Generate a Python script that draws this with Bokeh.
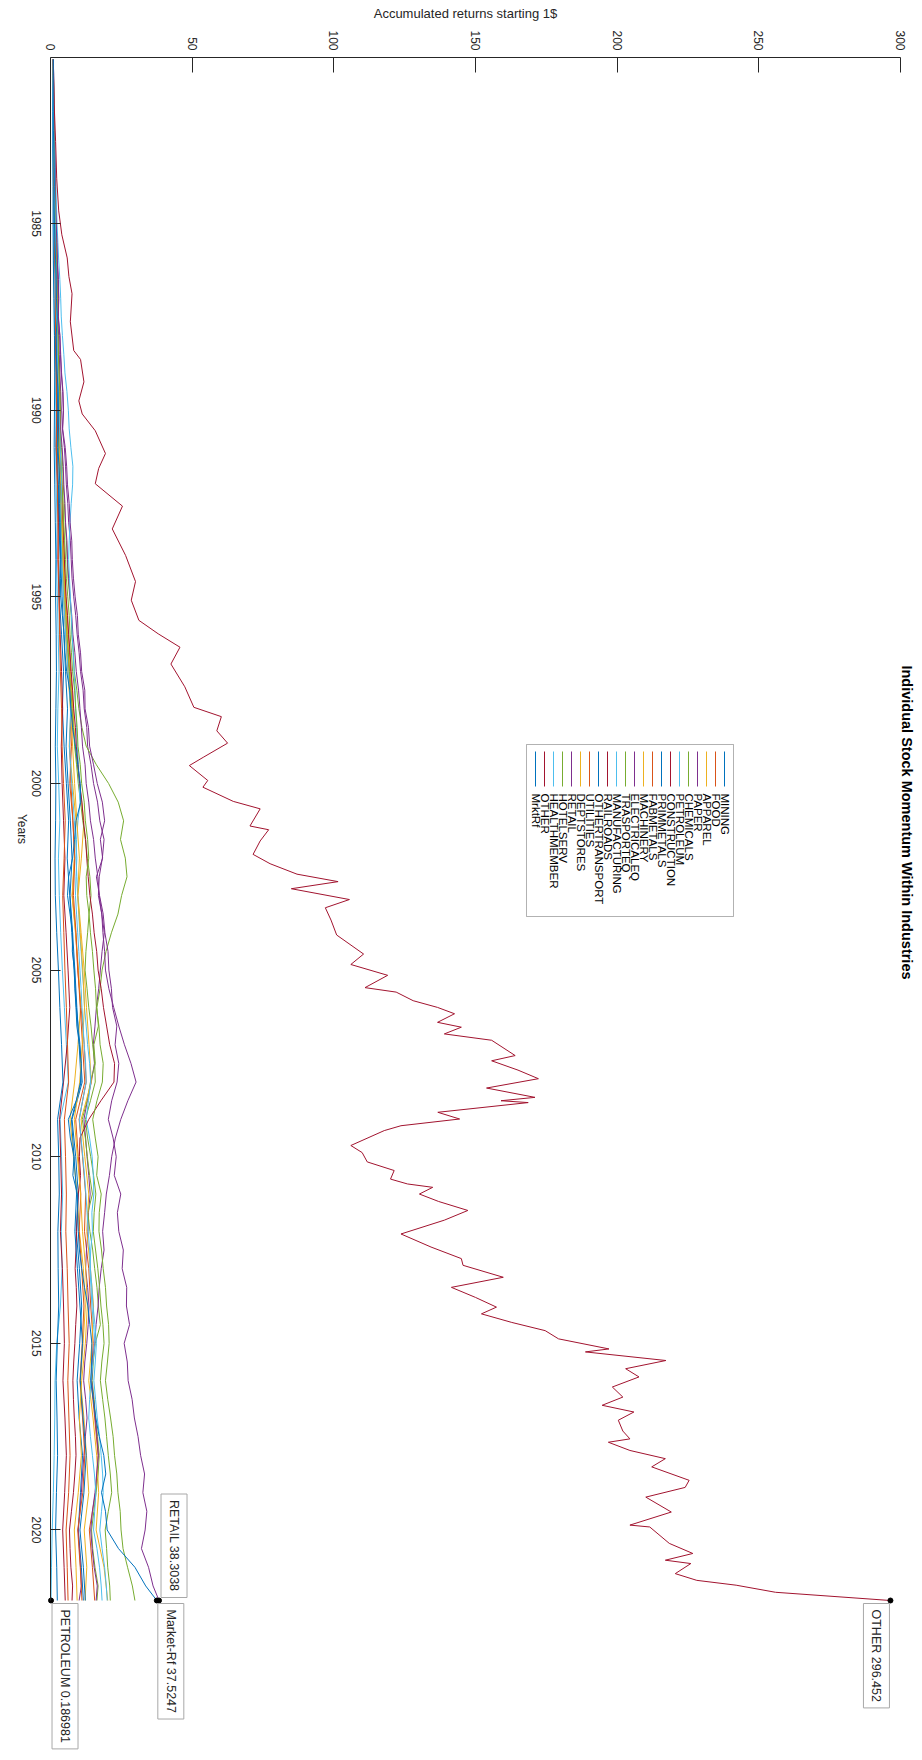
import math
from bokeh.plotting import figure
from bokeh.models import Range1d, FixedTicker, Label, BoxAnnotation, ColumnDataSource
from bokeh.embed import file_html
from bokeh.resources import INLINE
from bokeh.core.properties import value

# ---------------- data ----------------
# yearly sampling (first point = start of sample, last = end of sample)
YEARS = [1980.6, 1982, 1983, 1984, 1985, 1986, 1987, 1988, 1989, 1990,
         1991, 1992, 1993, 1994, 1995, 1996, 1997, 1998, 1999, 2000,
         2001, 2002, 2003, 2004, 2005, 2006, 2007, 2008, 2009, 2010,
         2011, 2012, 2013, 2014, 2015, 2016, 2017, 2018, 2019, 2020,
         2021, 2021.89]
# half-yearly sampling for the most visible series
YEARS_H = [1980.6, 1981.0, 1981.5, 1982.0, 1982.5, 1983.0, 1983.5, 1984.0, 1984.5, 1985.0,
           1985.5, 1986.0, 1986.5, 1987.0, 1987.5, 1988.0, 1988.5, 1989.0, 1989.5, 1990.0,
           1990.5, 1991.0, 1991.5, 1992.0, 1992.5, 1993.0, 1993.5, 1994.0, 1994.5, 1995.0,
           1995.5, 1996.0, 1996.5, 1997.0, 1997.5, 1998.0, 1998.5, 1999.0, 1999.5, 2000.0,
           2000.5, 2001.0, 2001.5, 2002.0, 2002.5, 2003.0, 2003.5, 2004.0, 2004.5, 2005.0,
           2005.5, 2006.0, 2006.5, 2007.0, 2007.5, 2008.0, 2008.5, 2009.0, 2009.5, 2010.0,
           2010.5, 2011.0, 2011.5, 2012.0, 2012.5, 2013.0, 2013.5, 2014.0, 2014.5, 2015.0,
           2015.5, 2016.0, 2016.5, 2017.0, 2017.5, 2018.0, 2018.5, 2019.0, 2019.5, 2020.0,
           2020.5, 2021.0, 2021.5, 2021.89]

MINING = [1.0, 0.9, 1.1, 1.2, 1.3, 1.5, 1.8, 1.7, 2.0, 2.3,
          2.1, 2.6, 3.0, 3.4, 3.1, 3.9, 4.6, 4.2, 4.8, 5.6,
          6.4, 5.9, 6.8, 7.5, 8.3, 9.1, 10.4, 11.2, 7.6, 8.9,
          9.8, 9.1, 10.2, 11.0, 10.3, 9.4, 10.1, 11.3, 10.6, 9.8,
          10.9, 11.6]
FOOD = [1.0, 1.2, 1.4, 1.5, 1.8, 2.1, 2.4, 2.6, 3.0, 3.5,
        3.4, 4.1, 4.6, 4.9, 5.4, 6.3, 7.1, 8.0, 7.4, 6.8,
        7.9, 8.5, 7.7, 8.9, 9.6, 10.8, 11.9, 12.6, 10.1, 11.3,
        12.4, 12.0, 13.5, 14.2, 15.1, 14.3, 15.6, 16.8, 15.9, 13.7,
        14.8, 15.6]
APPAREL = [1.0, 1.1, 1.3, 1.6, 1.7, 2.0, 2.3, 2.2, 2.7, 3.1,
           2.9, 3.6, 4.2, 4.0, 4.6, 5.3, 6.1, 7.2, 6.6, 7.8,
           9.0, 8.4, 7.6, 8.8, 9.9, 10.6, 9.7, 8.5, 6.9, 8.1,
           9.4, 10.2, 11.6, 12.3, 11.5, 10.6, 11.8, 12.7, 13.5, 11.9,
           12.8, 12.2]
PAPER = [1.0, 1.1, 1.15, 1.2, 1.4, 1.5, 1.6, 1.7, 1.85, 2.0,
         2.2, 2.4, 2.7, 2.9, 2.8, 3.3, 3.5, 3.8, 4.3, 4.5,
         4.2, 4.9, 5.3, 5.6, 6.1, 6.4, 7.0, 7.3, 7.6, 8.2,
         8.9, 9.4, 10.1, 10.6, 11.5, 11.9, 12.8, 13.1, 14.3, 15.2,
         16.6, 17.4, 18.9, 18.3, 17.2, 16.9, 18.1, 19.0, 18.2, 17.6,
         17.0, 16.2, 15.7, 15.1, 15.5, 14.4, 13.0, 11.8, 12.4, 12.9,
         13.5, 14.0, 13.4, 13.2, 12.7, 12.4, 13.1, 13.6, 13.3, 12.8,
         12.1, 11.7, 12.4, 12.9, 12.3, 11.8, 11.3, 10.9, 10.4, 9.8,
         10.2, 10.6, 10.9, 10.1]
CHEMICALS = [1.0, 1.0, 1.05, 1.1, 1.2, 1.3, 1.4, 1.5, 1.7, 1.8,
             1.9, 2.0, 2.2, 2.3, 2.1, 2.7, 2.8, 3.0, 3.4, 3.6,
             3.3, 3.9, 4.3, 4.5, 4.9, 5.2, 5.6, 5.9, 6.2, 6.8,
             7.3, 7.5, 8.1, 8.4, 9.3, 10.0, 11.1, 12.6, 16.2, 20.5,
             23.9, 25.8, 24.7, 26.4, 27.0, 25.1, 23.8, 21.5, 19.6, 18.2,
             17.5, 16.4, 16.9, 15.3, 15.8, 14.1, 12.9, 11.2, 12.3, 13.0,
             13.8, 14.8, 13.2, 13.9, 14.9, 15.6, 16.4, 16.9, 17.6, 15.8,
             15.1, 14.7, 15.4, 15.9, 16.6, 17.2, 16.8, 16.1, 15.3, 14.5,
             14.9, 15.7, 16.8, 16.4]
PETROLEUM = [1.0, 0.8, 0.9, 1.0, 1.2, 1.1, 1.3, 1.4, 1.6, 1.9,
             1.8, 2.0, 2.3, 2.1, 2.4, 2.7, 3.0, 2.6, 2.4, 2.9,
             3.3, 2.8, 3.1, 3.6, 4.2, 4.9, 5.6, 6.3, 3.4, 3.9,
             4.3, 3.8, 4.1, 3.5, 2.2, 1.6, 1.5, 1.3, 1.0, 0.6,
             0.35, 0.186981]
CONSTRUCTION = [1.0, 1.1, 1.2, 1.4, 1.5, 1.7, 1.9, 1.8, 2.1, 2.2,
                2.0, 2.5, 2.8, 2.6, 3.0, 3.4, 3.9, 4.3, 3.8, 4.1,
                4.6, 5.1, 4.7, 5.5, 6.2, 6.8, 5.9, 4.6, 3.2, 3.6,
                3.9, 3.5, 4.2, 4.6, 4.9, 4.4, 5.1, 5.6, 5.0, 4.3,
                4.8, 5.2]
PRIMMETALS = [1.0, 0.9, 0.8, 0.9, 0.9, 1.0, 1.2, 1.4, 1.5, 1.4,
              1.3, 1.5, 1.7, 1.9, 1.8, 2.0, 2.1, 1.9, 1.7, 1.9,
              1.8, 1.6, 1.7, 2.2, 2.8, 3.3, 3.9, 4.4, 2.5, 2.9,
              3.1, 2.6, 2.7, 2.9, 2.4, 2.0, 2.3, 2.5, 2.1, 1.8,
              2.2, 2.4]
FABMETALS = [1.0, 1.1, 1.3, 1.4, 1.6, 1.9, 2.1, 2.3, 2.6, 2.9,
             3.0, 3.5, 4.0, 4.4, 4.9, 5.6, 6.5, 7.3, 6.8, 7.2,
             7.9, 8.6, 8.1, 9.0, 9.7, 10.5, 11.3, 12.1, 8.9, 9.8,
             10.7, 10.1, 11.0, 11.8, 11.2, 10.4, 11.3, 12.1, 11.4, 9.6,
             10.5, 11.1]
MACHINERY = [1.0, 1.1, 1.2, 1.4, 1.6, 1.8, 2.1, 2.0, 2.4, 2.8,
             2.7, 3.3, 3.9, 4.5, 5.2, 6.0, 6.8, 7.9, 8.7, 10.2,
             11.8, 10.9, 9.7, 10.8, 11.9, 12.7, 13.6, 14.4, 10.8, 12.1,
             13.5, 12.8, 14.1, 15.2, 14.6, 13.5, 15.0, 16.3, 17.0, 16.1,
             18.9, 20.2]
ELECTRICALEQ = [1.0, 1.05, 1.1, 1.2, 1.3, 1.4, 1.5, 1.6, 1.8, 1.9,
                2.1, 2.2, 2.4, 2.5, 2.4, 2.9, 3.1, 3.3, 3.6, 3.8,
                3.6, 4.1, 4.5, 4.7, 5.1, 5.3, 5.8, 6.0, 6.4, 6.9,
                7.5, 7.9, 8.6, 9.1, 9.9, 10.4, 10.9, 11.3, 12.2, 12.6,
                13.5, 14.1, 15.2, 15.8, 16.7, 17.2, 18.1, 18.5, 19.1, 19.4,
                20.6, 22.3, 24.1, 26.1, 28.4, 30.2, 27.3, 24.8, 22.9, 21.6,
                20.8, 19.7, 19.1, 18.4, 18.9, 17.9, 17.2, 16.8, 16.1, 15.6,
                14.9, 14.5, 15.2, 15.8, 16.4, 16.9, 16.3, 15.7, 14.8, 14.2,
                14.7, 15.4, 16.5, 16.1]
TRASPORTEQ = [1.0, 1.05, 1.1, 1.1, 1.15, 1.2, 1.25, 1.3, 1.4, 1.5,
              1.6, 1.7, 1.8, 1.9, 1.85, 2.2, 2.3, 2.5, 2.7, 2.8,
              2.7, 2.9, 3.2, 3.4, 3.7, 3.9, 4.2, 4.5, 4.7, 5.0,
              5.4, 5.8, 6.3, 6.7, 7.2, 7.6, 8.1, 8.5, 9.2, 9.8,
              10.6, 11.4, 12.3, 13.0, 13.9, 14.3, 13.6, 13.1, 12.5, 12.2,
              12.9, 13.5, 14.3, 14.9, 15.6, 15.8, 14.1, 12.3, 13.1, 14.2,
              15.2, 16.0, 15.4, 15.1, 15.9, 16.7, 17.3, 17.8, 18.5, 18.9,
              18.1, 17.6, 18.4, 19.2, 19.8, 20.4, 21.1, 21.6, 20.4, 19.3,
              19.8, 20.2, 20.9, 21.1]
MANUFACTURING = [1.0, 1.1, 1.15, 1.2, 1.35, 1.5, 1.7, 1.9, 2.1, 2.3,
                 2.6, 2.9, 3.3, 3.6, 3.8, 4.2, 4.7, 5.1, 5.8, 6.3,
                 6.6, 7.2, 7.9, 7.8, 7.3, 6.9, 6.6, 6.4, 6.7, 7.0,
                 7.4, 7.6, 8.0, 8.3, 8.7, 8.9, 9.2, 9.4, 9.9, 10.1,
                 10.4, 9.7, 9.2, 9.0, 9.3, 9.6, 10.0, 10.3, 10.8, 11.2,
                 11.7, 12.0, 12.6, 13.1, 13.8, 14.2, 13.4, 12.6, 13.8, 14.7,
                 15.1, 15.3, 14.6, 14.8, 14.2, 13.9, 14.3, 14.6, 15.2, 15.7,
                 15.0, 14.3, 13.8, 13.5, 14.1, 14.8, 15.5, 16.0, 15.6, 15.2,
                 16.4, 17.3, 17.9, 18.2]
RAILROADS = [1.0, 1.05, 1.1, 1.1, 1.2, 1.3, 1.35, 1.4, 1.5, 1.6,
             1.7, 1.8, 2.0, 2.1, 2.0, 2.3, 2.5, 2.6, 2.9, 3.0,
             2.9, 3.2, 3.5, 3.7, 4.0, 4.3, 4.6, 4.9, 5.2, 5.5,
             6.0, 6.4, 6.9, 7.3, 7.8, 8.2, 8.8, 9.1, 9.7, 10.3,
             11.1, 11.6, 12.4, 12.8, 13.3, 13.9, 14.8, 15.4, 16.3, 16.8,
             17.9, 18.7, 19.8, 20.9, 22.6, 22.4, 17.8, 13.5, 10.4, 10.2,
             10.6, 9.8, 9.5, 9.2, 9.0, 8.7, 9.1, 9.3, 8.9, 8.6,
             8.2, 7.9, 8.1, 8.4, 8.8, 9.0, 8.6, 8.1, 7.4, 6.7,
             6.9, 7.2, 7.8, 7.6]
OTHERTRANSPORT = [1.0, 1.1, 1.2, 1.3, 1.5, 1.7, 1.9, 2.0, 2.3, 2.5,
                  2.4, 2.8, 3.2, 3.6, 4.1, 4.7, 5.3, 6.0, 5.5, 6.2,
                  7.0, 7.6, 6.9, 7.8, 8.6, 9.3, 10.1, 10.8, 7.4, 8.3,
                  9.2, 8.6, 9.5, 10.4, 11.3, 10.5, 11.5, 12.6, 11.8, 10.4,
                  11.6, 12.3]
UTILITIES = [1.0, 1.1, 1.2, 1.3, 1.4, 1.6, 1.7, 1.8, 2.0, 2.2,
             2.1, 2.4, 2.6, 2.8, 3.0, 3.2, 3.5, 3.9, 4.1, 4.6,
             5.2, 4.8, 4.3, 4.7, 5.1, 5.6, 6.0, 6.4, 4.9, 5.3,
             5.6, 5.4, 5.9, 6.2, 6.6, 6.1, 6.5, 6.9, 6.4, 5.5,
             5.9, 6.2]
DEPTSTORES = [1.0, 1.2, 1.4, 1.5, 1.8, 2.0, 2.3, 2.5, 2.8, 3.2,
              3.1, 3.6, 4.1, 4.5, 4.9, 5.5, 6.2, 7.0, 7.8, 8.5,
              9.3, 10.2, 9.6, 10.5, 11.4, 12.0, 11.2, 10.3, 8.4, 9.5,
              10.6, 11.3, 12.4, 13.0, 12.3, 11.0, 10.2, 10.9, 9.8, 8.4,
              9.0, 9.4]
RETAIL = [1.0, 1.05, 1.1, 1.2, 1.35, 1.4, 1.6, 1.7, 1.8, 2.0,
          2.3, 2.4, 2.8, 2.9, 2.7, 3.3, 3.6, 3.9, 4.4, 4.6,
          4.3, 5.2, 5.7, 6.0, 6.6, 6.9, 7.5, 7.7, 8.1, 8.7,
          9.5, 9.8, 10.6, 11.0, 12.1, 12.2, 13.4, 13.8, 15.2, 16.5,
          18.3, 19.1, 17.6, 18.4, 16.2, 17.3, 18.6, 19.2, 20.3, 20.6,
          21.5, 21.9, 23.4, 22.8, 24.1, 23.5, 21.6, 20.4, 22.1, 23.2,
          22.5, 24.8, 23.6, 24.1, 25.7, 25.3, 26.9, 26.8, 27.9, 26.0,
          27.1, 27.4, 28.8, 29.6, 30.9, 31.8, 33.2, 32.6, 34.0, 33.4,
          32.1, 34.6, 36.2, 38.3038]
HOTELSERV = [1.0, 1.0, 1.05, 1.1, 1.2, 1.3, 1.4, 1.5, 1.6, 1.7,
             1.85, 2.0, 2.2, 2.3, 2.2, 2.6, 2.8, 3.0, 3.3, 3.4,
             3.2, 3.5, 3.8, 4.0, 4.4, 4.6, 5.0, 5.3, 5.6, 6.1,
             6.6, 6.9, 7.4, 7.8, 8.5, 8.9, 9.4, 9.7, 10.5, 11.0,
             11.9, 12.3, 13.1, 13.5, 12.6, 12.8, 13.6, 14.1, 14.8, 15.3,
             15.9, 16.2, 17.1, 17.5, 18.6, 18.3, 16.4, 14.9, 15.8, 16.8,
             16.3, 17.9, 17.2, 17.1, 18.0, 18.6, 19.4, 19.8, 20.5, 20.7,
             20.1, 19.4, 20.2, 21.2, 22.1, 22.6, 23.4, 23.8, 24.6, 24.9,
             25.6, 27.2, 28.9, 29.8]
HEALTHMEMBER = [1.0, 1.05, 1.1, 1.1, 1.15, 1.2, 1.3, 1.4, 1.5, 1.6,
                1.7, 1.8, 1.9, 2.0, 2.1, 2.3, 2.4, 2.6, 2.8, 3.0,
                3.2, 3.4, 3.7, 3.9, 3.7, 3.6, 3.8, 4.0, 4.3, 4.6,
                5.0, 5.3, 5.8, 6.2, 6.7, 7.1, 6.9, 6.7, 7.1, 7.5,
                8.0, 8.4, 8.9, 9.3, 9.0, 8.8, 9.2, 9.6, 10.0, 10.4,
                10.8, 11.1, 11.5, 11.9, 12.4, 12.6, 11.3, 10.2, 10.8, 11.4,
                12.0, 12.5, 12.9, 13.3, 13.8, 14.1, 14.6, 15.0, 15.7, 16.2,
                15.8, 15.3, 15.9, 16.5, 17.3, 17.9, 18.4, 18.6, 18.0, 17.4,
                18.2, 19.1, 19.7, 20.0]
MRKTRF = [1.0, 0.98, 0.93, 0.95, 1.02, 1.2, 1.3, 1.35, 1.25, 1.4,
          1.6, 1.8, 2.0, 2.1, 2.4, 2.0, 2.1, 2.3, 2.7, 2.8,
          2.6, 2.6, 3.0, 3.3, 3.2, 3.4, 3.5, 3.7, 3.5, 3.6,
          4.2, 4.8, 5.1, 5.7, 6.8, 7.2, 7.8, 8.8, 9.6, 10.5,
          10.7, 9.0, 8.5, 7.8, 6.4, 6.0, 6.9, 7.8, 7.7, 8.5,
          8.6, 9.0, 9.3, 10.2, 10.9, 10.6, 9.1, 6.3, 7.0, 8.3,
          7.9, 9.5, 9.6, 9.8, 10.2, 11.0, 12.0, 13.2, 13.9, 14.6,
          14.5, 14.2, 15.1, 16.0, 17.2, 18.8, 19.5, 18.0, 19.4, 20.0,
          24.0, 29.8, 33.6, 37.5247]

OTHER_YEARS = [1980.6, 1981.8, 1982.8, 1983.8, 1984.66, 1985.3, 1985.92, 1986.42, 1986.88, 1987.63,
               1988.4, 1988.64, 1989.24, 1989.75, 1990.1, 1990.55, 1991.16, 1991.56, 1991.97, 1992.57,
               1993.18, 1993.89, 1994.59, 1995.09, 1995.63, 1995.99, 1996.35, 1996.8, 1997.41, 1997.96,
               1998.21, 1998.59, 1998.92, 1999.3, 1999.52, 1999.92, 2000.1, 2000.48, 2000.68, 2001.14,
               2001.24, 2001.54, 2001.9, 2002.15, 2002.43, 2002.63, 2002.82, 2003.11, 2003.33, 2003.66,
               2004.06, 2004.57, 2004.85, 2005.14, 2005.47, 2005.59, 2005.82, 2006.0, 2006.17, 2006.4,
               2006.53, 2006.71, 2006.88, 2007.29, 2007.43, 2007.68, 2007.91, 2008.16, 2008.41, 2008.5,
               2008.55, 2008.81, 2008.99, 2009.17, 2009.3, 2009.7, 2009.89, 2010.14, 2010.37, 2010.6,
               2010.73, 2010.82, 2011.0, 2011.2, 2011.44, 2011.7, 2012.07, 2012.42, 2012.73, 2012.91,
               2013.23, 2013.5, 2013.77, 2014.03, 2014.21, 2014.44, 2014.66, 2014.88, 2015.15, 2015.23,
               2015.46, 2015.68, 2015.9, 2016.17, 2016.44, 2016.66, 2016.84, 2017.06, 2017.35, 2017.56,
               2017.65, 2017.87, 2018.09, 2018.31, 2018.67, 2018.86, 2019.12, 2019.52, 2019.87, 2019.92,
               2020.36, 2020.63, 2020.81, 2020.9, 2021.17, 2021.35, 2021.48, 2021.67, 2021.89]
OTHER = [1.0, 1.3, 1.8, 2.2, 2.9, 4.0, 5.9, 6.5, 7.6, 7.0,
         8.2, 10.6, 11.8, 10.0, 11.2, 15.8, 19.4, 17.0, 15.8, 25.4,
         21.8, 26.5, 30.0, 28.5, 31.2, 38.0, 45.7, 42.5, 47.4, 50.6,
         60.3, 58.7, 62.5, 53.9, 49.0, 55.5, 53.8, 64.5, 74.0, 70.4,
         77.0, 74.0, 71.5, 77.5, 87.0, 101.5, 85.0, 105.5, 97.0, 99.0,
         101.0, 110.5, 106.0, 119.0, 111.0, 122.0, 128.0, 136.6, 142.6, 136.6,
         145.0, 139.0, 155.7, 164.0, 155.7, 165.0, 172.2, 153.9, 171.0, 159.0,
         168.6, 136.7, 144.4, 123.7, 117.8, 106.0, 110.0, 111.8, 121.3, 120.0,
         126.0, 134.9, 130.2, 137.0, 147.3, 139.0, 123.7, 134.3, 145.0, 145.6,
         159.8, 141.5, 150.0, 157.4, 152.1, 162.8, 174.6, 179.3, 197.1, 188.8,
         217.2, 203.0, 207.7, 198.3, 202.0, 194.7, 205.9, 200.4, 202.0, 204.5,
         196.9, 204.5, 217.0, 212.2, 225.4, 224.0, 210.1, 219.1, 204.5, 211.5,
         218.4, 226.7, 217.0, 226.0, 220.5, 228.1, 242.0, 255.9, 296.452]

NAMES = ["MINING", "FOOD", "APPAREL", "PAPER", "CHEMICALS", "PETROLEUM",
         "CONSTRUCTION", "PRIMMETALS", "FABMETALS", "MACHINERY", "ELECTRICALEQ",
         "TRASPORTEQ", "MANUFACTURING", "RAILROADS", "OTHERTRANSPORT", "UTILITIES",
         "DEPTSTORES", "RETAIL", "HOTELSERV", "HEALTHMEMBER", "OTHER", "MrktRf"]
SERIES = {
    "MINING": (YEARS, MINING), "FOOD": (YEARS, FOOD), "APPAREL": (YEARS, APPAREL),
    "PAPER": (YEARS_H, PAPER), "CHEMICALS": (YEARS_H, CHEMICALS), "PETROLEUM": (YEARS, PETROLEUM),
    "CONSTRUCTION": (YEARS, CONSTRUCTION), "PRIMMETALS": (YEARS, PRIMMETALS),
    "FABMETALS": (YEARS, FABMETALS), "MACHINERY": (YEARS, MACHINERY),
    "ELECTRICALEQ": (YEARS_H, ELECTRICALEQ), "TRASPORTEQ": (YEARS_H, TRASPORTEQ),
    "MANUFACTURING": (YEARS_H, MANUFACTURING), "RAILROADS": (YEARS_H, RAILROADS),
    "OTHERTRANSPORT": (YEARS, OTHERTRANSPORT), "UTILITIES": (YEARS, UTILITIES),
    "DEPTSTORES": (YEARS, DEPTSTORES), "RETAIL": (YEARS_H, RETAIL),
    "HOTELSERV": (YEARS_H, HOTELSERV), "HEALTHMEMBER": (YEARS_H, HEALTHMEMBER),
    "OTHER": (OTHER_YEARS, OTHER), "MrktRf": (YEARS_H, MRKTRF),
}
TIPS = [("OTHER", "OTHER"), ("MrktRf", "Market-Rf"), ("RETAIL", "RETAIL"), ("PETROLEUM", "PETROLEUM")]

RET_TICKS = [0, 50, 100, 150, 200, 250, 300]
YEAR_TICKS = [1985, 1990, 1995, 2000, 2005, 2010, 2015, 2020]
COLORS = ["#0072BD", "#D95319", "#EDB120", "#7E2F8E", "#77AC30", "#4DBEEE", "#A2142F"]

# ---------------- layout ----------------
FONT = "Liberation Sans"
INK = "#262626"
W, H = 922, 1760
ML, MT = 8, 57                   # left / top borders; frame runs to the right and bottom edges
AX0_PX, AX300_PX = 50, 900       # canvas x of returns 0 and 300
YT_PX, YB_PX = 57, 1600          # canvas y of the axes' first and last date
RET_LO, RET_HI = 0, 300
YEAR_LO, YEAR_HI = 1980.55, 2021.89


def vx(px):
    return RET_LO + (px - AX0_PX) / (AX300_PX - AX0_PX) * (RET_HI - RET_LO)


def vy(py):
    return YEAR_LO + (py - YT_PX) / (YB_PX - YT_PX) * (YEAR_HI - YEAR_LO)


ROT = -math.pi / 2               # text reads top-to-bottom
MID_Y = vy((YT_PX + YB_PX) / 2)

p = figure(width=W, height=H, output_backend="svg", toolbar_location=None,
           x_range=Range1d(vx(ML), vx(W)), y_range=Range1d(vy(H), vy(MT)),
           x_axis_location="above",
           min_border_left=ML, min_border_right=0, min_border_top=MT, min_border_bottom=0)
p.outline_line_color = None
p.grid.visible = False
p.background_fill_color = "white"
p.border_fill_color = "white"

xa = p.xaxis[0]
xa.ticker = FixedTicker(ticks=RET_TICKS)
xa.bounds = (RET_LO, RET_HI)
xa.major_tick_in = 15
xa.major_tick_out = 0
xa.minor_tick_in = 0
xa.minor_tick_out = 0
xa.axis_line_color = INK
xa.major_tick_line_color = INK
xa.major_label_orientation = ROT
xa.major_label_standoff = 7
xa.major_label_text_font = FONT
xa.major_label_text_font_size = "12px"
xa.major_label_text_color = INK
xa.axis_label = "Accumulated returns starting 1$"
xa.axis_label_text_font = FONT
xa.axis_label_text_font_size = "13px"
xa.axis_label_text_font_style = "normal"
xa.axis_label_text_color = INK
xa.axis_label_standoff = 6

ya = p.yaxis[0]
ya.fixed_location = RET_LO
ya.bounds = (YEAR_LO, YEAR_HI)
ya.ticker = FixedTicker(ticks=YEAR_TICKS)
ya.major_tick_in = 10
ya.major_tick_out = 0
ya.minor_tick_in = 0
ya.minor_tick_out = 0
ya.major_label_standoff = 0
ya.axis_line_color = INK
ya.major_tick_line_color = INK
ya.major_label_overrides = {t: "" for t in YEAR_TICKS}

for t in YEAR_TICKS:
    p.add_layout(Label(x=vx(36), y=t, text=str(t), angle=ROT, text_align="center",
                       text_baseline="middle", text_font=FONT, text_font_size="12px",
                       text_color=INK))

p.add_layout(Label(x=vx(21), y=MID_Y, text="Years", angle=ROT, text_align="center",
                   text_baseline="middle", text_font=FONT, text_font_size="12px",
                   text_color=INK))
p.add_layout(Label(x=vx(906), y=vy(822), text="Individual Stock Momentum Within Industries",
                   angle=ROT, text_align="center", text_baseline="middle", text_font=FONT,
                   text_font_size="14.5px", text_font_style="bold", text_color="black"))

# ---------------- lines ----------------
for i, name in enumerate(NAMES):
    yrs, vals = SERIES[name]
    p.line(x=vals, y=yrs, line_color=COLORS[i % len(COLORS)], line_width=1)

# ---------------- legend (rotated) ----------------
p.add_layout(BoxAnnotation(left=vx(526), right=vx(733), top=vy(744), bottom=vy(916),
                           fill_color="white", fill_alpha=1, line_color="black", line_width=1,
                           level="underlay"))
lx = [vx(724 - 9.0 * i) for i in range(len(NAMES))]
leg = ColumnDataSource(dict(
    x=lx,
    y0=[vy(751)] * len(NAMES), y1=[vy(786)] * len(NAMES),
    ty=[vy(793)] * len(NAMES),
    name=NAMES,
    color=[COLORS[i % len(COLORS)] for i in range(len(NAMES))],
))
p.segment(x0="x", y0="y0", x1="x", y1="y1", line_color="color", line_width=1, source=leg)
p.text(x="x", y="ty", text="name", angle=ROT, text_align="left", text_baseline="middle",
       text_font=value(FONT), text_font_size="11.5px", text_color="black", source=leg)

# ---------------- data tips ----------------
tip_style = {
    "OTHER": dict(text_align="left", text_baseline="top", x_offset=-1, y_offset=-3),
    "RETAIL": dict(text_align="right", text_baseline="bottom", x_offset=2, y_offset=3),
    "MrktRf": dict(text_align="left", text_baseline="bottom", x_offset=1, y_offset=-3),
    "PETROLEUM": dict(text_align="left", text_baseline="bottom", x_offset=1, y_offset=-3),
}
tx, ty = [], []
for key, shown in TIPS:
    yrs, vals = SERIES[key]
    tx.append(vals[-1])
    ty.append(yrs[-1])
    p.add_layout(Label(x=vals[-1], y=yrs[-1], text=f"{shown} {vals[-1]:.6g}", angle=ROT,
                       text_font=FONT, text_font_size="12.5px", text_color=INK,
                       background_fill_color="white", border_line_color="#a8a8a8",
                       border_line_width=1, padding=6, **tip_style[key]))
p.scatter(x=tx, y=ty, size=5, color="black")

open("out.html", "w").write(file_html(p, INLINE))
